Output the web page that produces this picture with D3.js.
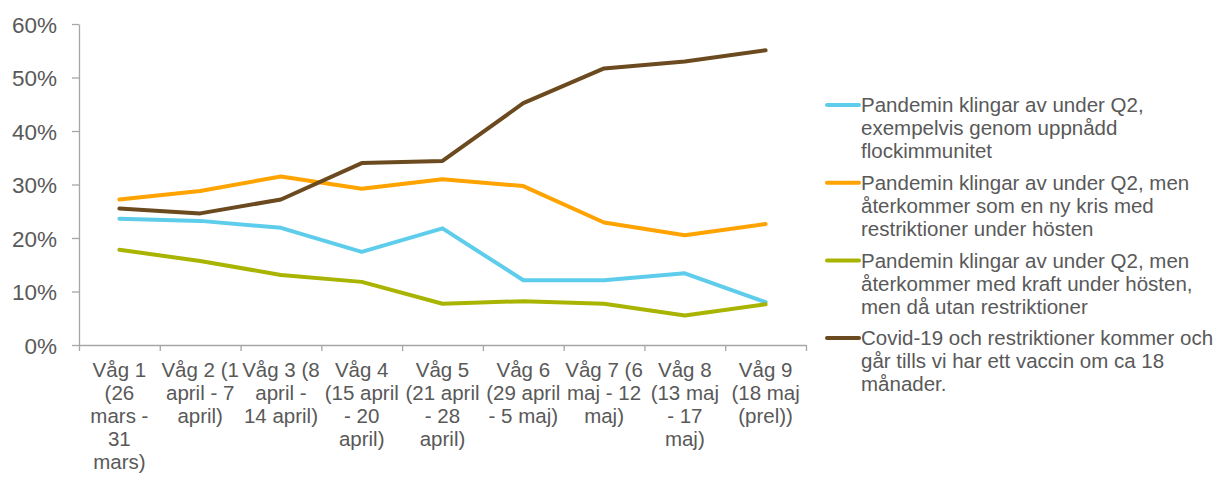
<!DOCTYPE html>
<html>
<head>
<meta charset="utf-8">
<script src="https://cdn.jsdelivr.net/npm/d3@7"></script>
<style>
  body { margin: 0; background: #fff; }
  svg { font-family: 'Liberation Sans', Arial, sans-serif; }
</style>
</head>
<body>
<svg id="chart" width="1223" height="477"></svg>
<script>
// DATA
const categories = ['Våg 1', 'Våg 2', 'Våg 3', 'Våg 4', 'Våg 5', 'Våg 6', 'Våg 7', 'Våg 8', 'Våg 9'];

const categoryLabels = [
  ['Våg 1', '(26', 'mars -', '31', 'mars)'],
  ['Våg 2 (1', 'april - 7', 'april)'],
  ['Våg 3 (8', 'april -', '14 april)'],
  ['Våg 4', '(15 april', '- 20', 'april)'],
  ['Våg 5', '(21 april', '- 28', 'april)'],
  ['Våg 6', '(29 april', '- 5 maj)'],
  ['Våg 7 (6', 'maj - 12', 'maj)'],
  ['Våg 8', '(13 maj', '- 17', 'maj)'],
  ['Våg 9', '(18 maj', '(prel))'],
];

const flockimmunitet = [23.6, 23.2, 21.9, 17.4, 21.8, 12.1, 12.1, 13.4, 8.0];
const nyKris = [27.2, 28.8, 31.5, 29.2, 31.0, 29.7, 22.9, 20.5, 22.6];
const utanRestriktioner = [17.8, 15.7, 13.1, 11.8, 7.7, 8.2, 7.7, 5.5, 7.6];
const vaccin = [25.5, 24.6, 27.2, 34.0, 34.4, 45.2, 51.7, 53.0, 55.1];

const yTicks = [0, 10, 20, 30, 40, 50, 60];

const seriesNames = [
  ['Pandemin klingar av under Q2,', 'exempelvis genom uppnådd', 'flockimmunitet'],
  ['Pandemin klingar av under Q2, men', 'återkommer som en ny kris med', 'restriktioner under hösten'],
  ['Pandemin klingar av under Q2, men', 'återkommer med kraft under hösten,', 'men då utan restriktioner'],
  ['Covid-19 och restriktioner kommer och', 'går tills vi har ett vaccin om ca 18', 'månader.'],
];

const series = [
  { name: seriesNames[0], values: flockimmunitet, color: '#5ECDEB' },
  { name: seriesNames[1], values: nyKris, color: '#FFA300' },
  { name: seriesNames[2], values: utanRestriktioner, color: '#A9B400' },
  { name: seriesNames[3], values: vaccin, color: '#6B4A1F' },
];

//SETUP
const svg = d3.select('#chart');
const padding = { top: 24, left: 79, right: 806, bottom: 345 };
const textColor = '#595959';
const axisColor = '#A6A6A6';

//SCALES
const xScale = d3
  .scaleBand()
  .domain(categories)
  .range([padding.left, padding.right]);

const yScale = d3
  .scaleLinear()
  .domain([0, 60])
  .range([padding.bottom, padding.top]);

//Y AXIS
const yAxis = d3
  .axisLeft(yScale)
  .tickValues(yTicks)
  .tickSize(7)
  .tickSizeOuter(0)
  .tickPadding(15)
  .tickFormat((d) => d + '%');

const yG = svg
  .append('g')
  .attr('transform', `translate(${padding.left},0)`)
  .call(yAxis);
yG.selectAll('line, path').attr('stroke', axisColor).attr('stroke-width', 1.3);
yG.selectAll('text')
  .attr('fill', textColor)
  .style('font-size', '22.5px')
  .attr('dy', '0.36em');

//X AXIS (ticks on category boundaries)
const edgeScale = d3
  .scaleLinear()
  .domain([0, categories.length])
  .range([padding.left, padding.right]);

const xG = svg
  .append('g')
  .attr('transform', `translate(0,${padding.bottom})`)
  .call(
    d3
      .axisBottom(edgeScale)
      .tickValues(d3.range(categories.length + 1))
      .tickSize(6)
      .tickSizeOuter(0)
      .tickFormat('')
  );
xG.selectAll('line, path').attr('stroke', axisColor).attr('stroke-width', 1.3);

//X LABELS
const labelG = svg
  .append('g')
  .selectAll('text')
  .data(categories)
  .join('text')
  .attr('x', (d) => xScale(d) + xScale.bandwidth() / 2)
  .attr('y', padding.bottom + 32)
  .attr('text-anchor', 'middle')
  .attr('fill', textColor)
  .style('font-size', '20.5px');

labelG
  .selectAll('tspan')
  .data((d, i) => categoryLabels[i])
  .join('tspan')
  .attr('x', function () {
    return this.parentNode.getAttribute('x');
  })
  .attr('dy', (d, i) => (i === 0 ? 0 : 23))
  .text((d) => d);

//LINES
const line = d3
  .line()
  .x((d, i) => xScale(categories[i]) + xScale.bandwidth() / 2)
  .y((d) => yScale(d));

svg
  .append('g')
  .selectAll('path')
  .data(series)
  .join('path')
  .attr('d', (d) => line(d.values))
  .attr('fill', 'none')
  .attr('stroke', (d) => d.color)
  .attr('stroke-width', 4)
  .attr('stroke-linejoin', 'round')
  .attr('stroke-linecap', 'round');

//LEGEND
const legend = svg
  .append('g')
  .selectAll('g')
  .data(series)
  .join('g')
  .attr('transform', (d, i) => `translate(827,${105 + i * 77.7})`);

legend
  .append('line')
  .attr('x1', 0)
  .attr('x2', 32)
  .attr('stroke', (d) => d.color)
  .attr('stroke-width', 4)
  .attr('stroke-linecap', 'round');

legend
  .append('text')
  .attr('x', 34)
  .attr('y', 0)
  .attr('fill', textColor)
  .style('font-size', '20.5px')
  .selectAll('tspan')
  .data((d) => d.name)
  .join('tspan')
  .attr('x', 34)
  .attr('dy', (d, i) => (i === 0 ? '0.35em' : 23))
  .text((d) => d);
</script>
</body>
</html>
